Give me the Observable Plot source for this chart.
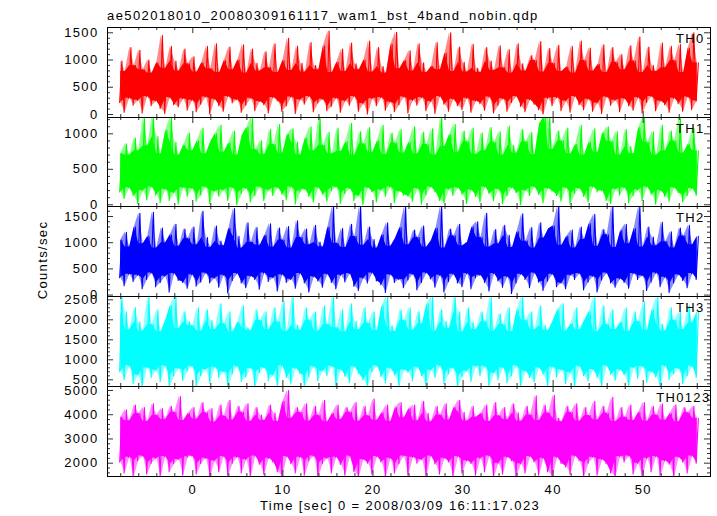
<!DOCTYPE html>
<html>
<head>
<meta charset="utf-8">
<script src="https://cdn.jsdelivr.net/npm/d3@7"></script>
<script src="https://cdn.jsdelivr.net/npm/@observablehq/plot@0.6"></script>
<style>
  html, body { margin: 0; padding: 0; background: white; }
  #chart { position: relative; width: 717px; height: 516px; background: white; overflow: hidden;
           font-family: 'Liberation Sans', Arial, Helvetica, sans-serif; font-size: 13px; letter-spacing: 1.35px; color: black; }
  .txt { position: absolute; white-space: nowrap; line-height: 13px; }
</style>
</head>
<body>
<div id="chart">
  <div class="txt" id="title" style="left:107px; top:9px; letter-spacing:1.4px;">ae502018010_20080309161117_wam1_bst_4band_nobin.qdp</div>
  <div class="txt" id="ylabel" style="left:41.5px; top:260px; transform: translate(-50%,-50%) rotate(-90deg);">Counts/sec</div>
  <div class="txt" id="xlabel" style="left:260px; top:499px;">Time [sec] 0 = 2008/03/09 16:11:17.023</div>
</div>
<script>
// ---- time binning (sec, relative to 2008/03/09 16:11:17.023) ----
const startTime = -8;
const binWidth = 0.5;

// ---- envelope of each 0.5 s column (counts/sec) ----
const th0Hi = [980,790,1230,900,1180,820,1000,760,950,1450,850,1250,980,800,1200,930,
1060,780,950,1250,840,1300,770,990,1240,820,1000,1280,760,1200,940,800,
1150,860,1300,770,990,1400,810,1250,940,780,1320,900,820,1260,1530,770,
960,1200,790,1310,930,820,1000,1350,780,1230,880,760,1290,1510,840,990,
1170,800,1300,950,770,880,1320,820,1130,1500,790,1240,960,780,1290,850,
770,1230,980,810,1260,860,1190,760,1300,930,800,1080,990,1340,780,1210,
940,1270,790,870,1250,760,1350,990,1220,800,920,1280,770,1230,960,1100,
820,1260,980,1420,770,1240,900,790,1310,860,1250,990,1290,770,1220,1500,950];
const th0Lo = [220,40,300,170,260,30,330,160,250,110,20,310,180,140,290,80,
260,50,190,320,10,280,160,60,330,210,270,40,170,300,70,240,
180,30,310,250,60,160,320,20,270,190,330,50,210,280,70,150,
300,40,250,170,330,60,200,10,290,160,310,80,230,50,180,320,
30,260,170,310,70,240,20,330,190,60,280,160,90,300,40,250,
200,80,320,30,170,290,60,220,330,150,50,270,190,90,10,300,
160,310,70,250,40,330,180,90,280,60,210,20,320,170,260,50,
290,160,80,310,30,220,330,70,250,180,40,300,200,60,320,90,250];

const th1Hi = [720,860,700,940,760,1240,830,1250,960,720,1050,1240,880,700,840,1010,
760,900,1080,720,890,1000,1120,740,870,1040,700,980,1090,1250,780,900,
710,1060,850,1130,730,990,1070,880,700,940,1100,760,1240,840,1020,720,
1080,750,890,1150,700,1030,860,1090,740,900,1120,710,1010,870,1060,730,
880,1100,720,1020,850,1070,700,1250,820,990,1130,740,1040,890,1080,710,
1010,760,1090,880,1030,700,1110,840,730,1060,890,1020,710,1140,1250,1240,
780,1040,900,1080,720,850,1120,700,880,1070,740,1010,1100,890,1030,700,
1060,820,720,1090,1250,880,1030,700,1120,760,1040,900,1240,730,850,1080,760];
const th1Lo = [180,90,240,130,20,200,70,250,140,30,220,60,170,10,240,120,
230,50,140,250,20,190,120,210,60,240,0,160,230,40,130,250,
60,210,130,240,150,70,250,10,180,220,120,40,240,150,50,200,
250,20,160,230,60,130,0,240,180,40,210,120,250,30,190,140,
120,50,230,10,140,250,180,60,30,220,130,240,150,20,210,120,
40,250,160,60,220,20,130,240,170,0,200,130,250,150,30,230,
190,130,50,240,10,160,230,120,40,250,180,200,60,20,220,140,
240,30,130,210,60,250,150,10,200,120,50,240,170,40,130,230,130];

const th2Hi = [1050,1200,920,1300,1560,980,1120,1580,900,1280,1000,1150,1350,930,1260,1080,
1300,960,1600,1100,910,1320,1030,940,1270,1650,1120,900,1380,1010,1290,950,
1140,1360,920,1280,1050,1310,900,1420,1100,1260,960,1330,1010,920,1300,1700,
990,1270,910,1350,1120,1700,950,1300,1060,900,1150,1380,930,1080,1290,1690,
960,1240,1100,1320,920,1040,1280,1700,900,1260,1130,1350,940,1010,1300,1400,
1100,1560,920,1250,980,1330,1140,910,1210,1550,1030,1290,900,1380,1090,1260,
1320,1700,950,1120,1240,900,1300,1060,1360,1540,930,1250,1150,1700,910,1230,
1350,980,1270,1700,920,1300,1110,940,1390,1020,1210,900,1280,1130,1330,960,1120];
const th2Lo = [330,180,400,260,380,120,300,420,160,240,360,60,410,280,240,130,
390,170,250,420,230,320,150,380,40,280,410,230,140,360,300,110,
420,260,330,80,390,240,300,130,410,230,60,350,270,150,400,240,
120,380,250,410,170,90,320,230,420,270,200,50,390,240,300,140,
290,400,100,240,420,310,150,380,60,260,400,230,160,410,120,330,
380,240,80,410,270,150,350,30,230,400,300,140,420,250,90,270,
400,160,230,120,380,300,410,100,250,360,60,290,420,230,150,310,
240,130,410,300,370,90,250,420,160,340,50,230,390,280,140,410,300];

const th3Hi = [2580,2200,1750,2300,1950,1720,2580,1880,2250,1700,1990,2350,2580,1780,2200,1950,
1850,2300,1720,2250,1980,1760,2400,1900,2200,1700,1940,2350,1800,1730,2250,1990,
2200,1760,2300,1950,2450,1710,2580,1870,1740,2300,1990,2200,1720,2350,1880,2580,
1800,2250,1700,2400,1960,1750,2300,1920,2200,1730,2350,2580,1850,1710,2250,1980,
2300,1740,2200,1900,2400,2580,1720,2250,1960,1780,2580,2200,1700,2300,1940,1760,
2200,1950,2580,1720,2150,1880,2300,1710,2250,2580,1990,2200,1750,2350,1860,1730,
1970,2250,2400,1720,1900,2300,1750,1980,2200,2580,1700,2350,1880,2250,1760,1940,
2300,1710,2200,1960,2450,1740,2250,2580,1890,1720,2300,1990,2200,1760,2350,1920,2200];
const th3Lo = [700,500,850,400,620,320,800,560,740,450,850,320,600,780,480,720,
840,320,600,760,420,820,560,700,320,650,840,460,570,790,320,680,
800,480,620,320,850,560,400,790,650,320,580,830,470,720,600,840,
320,760,590,430,830,650,500,320,700,850,580,420,790,620,320,750,
690,480,820,600,320,740,560,850,410,650,790,320,580,720,460,840,
600,840,320,670,500,800,430,600,850,320,720,560,450,800,640,320,
820,570,750,400,680,320,840,600,470,760,560,320,850,640,490,750,
620,320,800,540,830,440,700,580,320,850,510,650,780,400,600,840,560];

const th0123Hi = [3900,4200,3750,4400,4050,4300,3720,4450,3980,4250,3800,4350,4100,4750,3760,4050,
4300,3820,4500,4080,4250,3700,4400,3950,4600,3780,4350,4100,4450,3730,4300,3990,
3760,4400,4070,3720,4550,5000,3850,4300,4090,4450,3740,4350,3980,4600,3710,4050,
4400,3800,4300,4100,4500,3730,4350,3960,4650,3770,4080,4400,3720,4300,4500,3880,
4250,4400,3750,4550,4060,3710,4350,3990,4450,3780,4300,4600,4100,3740,4350,3900,
4050,4400,3720,4500,3960,4300,3800,4450,4080,3730,4350,3990,4780,3760,4400,4070,
4800,3850,3710,4350,4090,4450,3740,4300,3970,4550,3790,4350,4060,4720,3720,4300,
3900,4400,3760,4100,4500,3730,4350,3990,4450,3770,4050,4400,3710,4300,4080,4350,3850];
const th0123Lo = [2050,1600,2250,1440,2100,2300,1550,2000,2200,1440,2280,1650,1980,2150,1500,2250,
2300,1550,1990,2200,1440,2100,1650,2280,1500,2000,2250,1600,2150,1440,2300,1960,
1550,2200,2050,1650,1440,2280,1980,1600,2250,1500,2100,2300,1440,1990,2200,1600,
2250,1950,1500,2300,1650,1440,2150,2000,1550,2280,2050,1440,2200,1600,1980,2300,
1500,2250,2000,2150,1440,2300,1970,1550,2200,2050,1440,2280,1600,2100,1990,1500,
2200,1650,2300,1440,2000,1550,2250,2100,1440,1980,1600,2280,2050,1500,2200,1650,
1440,2250,1990,1850,1550,2300,2100,1440,2000,2250,1500,2150,1980,1600,1440,2280,
2050,2300,1550,2000,1440,2200,1650,2280,1500,2100,1960,1440,2250,2050,1600,2300,2000];

// ---- axis settings / tick labels ----
const xDomain = [-9.47, 57.47];
const xMajorTicks = [0, 10, 20, 30, 40, 50];
const xMinorTicks = d3.range(-8, 57, 2);

const panels = [
  {name: "TH0",    color: "#ff0000", hi: th0Hi,    lo: th0Lo,    domain: [-55, 1597], major: [0, 500, 1000, 1500],             minorStep: 100, labelDx: -6},
  {name: "TH1",    color: "#00ff00", hi: th1Hi,    lo: th1Lo,    domain: [-24, 1230], major: [0, 500, 1000],                   minorStep: 100, labelDx: -6},
  {name: "TH2",    color: "#0000ff", hi: th2Hi,    lo: th2Lo,    domain: [-27, 1691], major: [0, 500, 1000, 1500],             minorStep: 100, labelDx: -6},
  {name: "TH3",    color: "#00ffff", hi: th3Hi,    lo: th3Lo,    domain: [333, 2583], major: [500, 1000, 1500, 2000, 2500],    minorStep: 100, labelDx: -6},
  {name: "TH0123", color: "#ff00ff", hi: th0123Hi, lo: th0123Lo, domain: [1451, 5165], major: [2000, 3000, 4000, 5000],       minorStep: 200, labelDx: 0}
];

const panelTops = [27, 117, 206, 296, 386];
const panelHeights = [90, 89, 90, 90, 90];
const W = 717, ML = 107, MR = 7;
const PW = W - ML - MR;
const tickColor = "#333";
const majorLen = 6, minorLen = 3;

const chart = document.getElementById("chart");

panels.forEach((p, k) => {
  const h = panelHeights[k];
  const last = k === panels.length - 1;
  const mt = 14, mb = last ? 24 : 14;

  // one record per 0.5 s column
  const bins = p.lo.map((lo, i) => ({t: startTime + i * binWidth, lo, hi: p.hi[i]}));
  // the trace inside each column: down to its minimum, up to its maximum
  const series = bins.flatMap(b => [{t: b.t - binWidth / 4, v: b.lo}, {t: b.t + binWidth / 4, v: b.hi}]);

  const first = Math.ceil(p.domain[0] / p.minorStep) * p.minorStep;
  const minorY = d3.range(first, p.domain[1], p.minorStep).filter(v => !p.major.includes(v));
  const minorX = xMinorTicks.filter(v => !xMajorTicks.includes(v));

  const marks = [
    // faint full envelope
    Plot.areaY(bins, {x: "t", y1: "lo", y2: "hi", fill: p.color, fillOpacity: 0.45, clip: true}),
    // dense core: where neighbouring columns overlap
    Plot.areaY(bins, Plot.map(
      {y1: Plot.window({k: 2, reduce: "max"}), y2: Plot.window({k: 2, reduce: "min"})},
      {x: "t", y1: "lo", y2: "hi", fill: p.color, clip: true})),
    // the spiky trace
    Plot.line(series, {x: "t", y: "v", stroke: p.color, strokeWidth: 1.1, clip: true}),
    // y ticks, left and right, pointing inward
    Plot.tickY(p.major, {y: d => d, insetRight: PW - majorLen, stroke: tickColor}),
    Plot.tickY(p.major, {y: d => d, insetLeft: PW - majorLen, stroke: tickColor}),
    Plot.tickY(minorY, {y: d => d, insetRight: PW - minorLen, stroke: tickColor}),
    Plot.tickY(minorY, {y: d => d, insetLeft: PW - minorLen, stroke: tickColor}),
    // x ticks, top and bottom, pointing inward
    Plot.tickX(xMajorTicks, {x: d => d, insetBottom: h - majorLen, stroke: tickColor}),
    Plot.tickX(xMajorTicks, {x: d => d, insetTop: h - majorLen, stroke: tickColor}),
    Plot.tickX(minorX, {x: d => d, insetBottom: h - minorLen, stroke: tickColor}),
    Plot.tickX(minorX, {x: d => d, insetTop: h - minorLen, stroke: tickColor}),
    Plot.frame({stroke: "black"}),
    Plot.axisY(p.major, {anchor: "left", tickSize: 0, tickPadding: 9, tickFormat: "d", label: null}),
    Plot.text([p.name], {frameAnchor: "top-right", textAnchor: "end", lineAnchor: "bottom", dx: p.labelDx, dy: 15.5, fill: "black"})
  ];
  if (last) {
    marks.push(Plot.axisX(xMajorTicks, {anchor: "bottom", tickSize: 0, tickPadding: 8, tickFormat: "d", label: null}));
  }

  const svg = Plot.plot({
    width: W,
    height: h + mt + mb,
    marginLeft: ML, marginRight: MR, marginTop: mt, marginBottom: mb,
    x: last ? {domain: xDomain} : {domain: xDomain, axis: null},
    y: {domain: p.domain},
    style: {
      background: "transparent",
      overflow: "visible",
      fontFamily: "'Liberation Sans', Arial, Helvetica, sans-serif",
      fontSize: "13px",
      letterSpacing: "1.35px",
      color: "black"
    },
    marks
  });
  svg.style.position = "absolute";
  svg.style.left = "0px";
  svg.style.top = (panelTops[k] - mt) + "px";
  chart.appendChild(svg);
});
</script>
</body>
</html>
